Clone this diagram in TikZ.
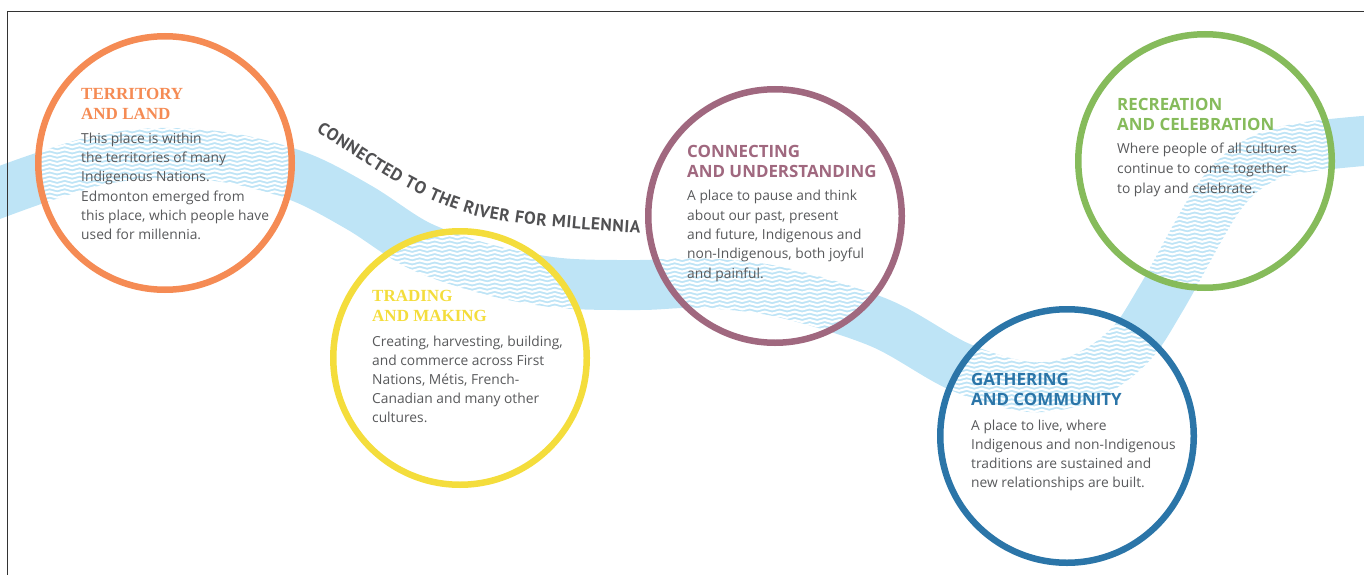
\documentclass[tikz,border=0pt]{standalone}
\usepackage{fontspec}
\setmainfont{Open Sans}
\newfontfamily\seriffont{Liberation Serif}
\newfontfamily\curvefont{PT Sans}
\usetikzlibrary{decorations.pathmorphing,decorations.text}
\definecolor{river}{RGB}{190,228,246}
\definecolor{cOrange}{RGB}{245,139,84}
\definecolor{cYellow}{RGB}{244,221,60}
\definecolor{cPurple}{RGB}{160,104,127}
\definecolor{cGreen}{RGB}{134,187,91}
\definecolor{cBlue}{RGB}{43,117,168}
\definecolor{txt}{RGB}{88,89,91}
\definecolor{ttl}{RGB}{80,80,82}
\begin{document}
\begin{tikzpicture}[x=1pt,y=-1pt,
  ring/.style={circle, draw=#1, line width=6.5pt, minimum size=253.5pt, inner sep=0pt},
  wave/.style={white, line width=2.1pt, decorate, decoration={snake, amplitude=1pt, segment length=15pt}},
  riverband/.style={draw=river, line width=50pt},
  frameline/.style={draw=black!80, line width=1.4pt},
  body/.style={anchor=north west, inner sep=0pt, align=left, text=txt, font=\fontsize{13.8}{19.3}\selectfont},
  sanstitle/.style={anchor=north west, inner sep=0pt, align=left, text=#1, font=\bfseries\fontsize{16.9}{20}\selectfont},
  seriftitle/.style={anchor=north west, inner sep=0pt, align=left, text=#1, font=\seriffont\bfseries\fontsize{17}{20}\selectfont},
]
\useasboundingbox (0,0) rectangle (1364,575);
% river
\draw[riverband] plot[smooth, tension=0.55] coordinates {(-10,196) (40,178) (100,160) (160,153) (230,158) (300,177) (360,208) (420,246) (490,270) (560,283) (640,285) (700,283) (780,292) (880,323) (960,367) (1030,387) (1085,377) (1130,345) (1162,297) (1217,200) (1255,163) (1300,148) (1375,140)};
% wave texture inside circles
\foreach \cx/\cy in {165/163, 460/358, 775/216, 1205/161, 1067/436} {
  \begin{scope}
    \clip (\cx,\cy) circle[radius=124pt];
    \foreach \k in {-31,...,31}
      \draw[wave] (\cx-135,\cy+\k*4.2) -- (\cx+135,\cy+\k*4.2);
  \end{scope}
}
% frame
\draw[frameline] (7.5,575) -- (7.5,11.5) -- (1364,11.5);
% circles
\node[ring=cOrange] (territory) at (165,163) {};
\node[ring=cYellow] (trading) at (460,358) {};
\node[ring=cPurple] (connecting) at (775,216) {};
\node[ring=cGreen] (recreation) at (1205,161) {};
\node[ring=cBlue] (gathering) at (1067,436) {};
% curved caption
\path[decorate, decoration={text along path, text color=ttl, text align=fit to path,
  text={|\curvefont\bfseries\fontsize{17.3}{17}\selectfont|CONNECTED TO THE RIVER FOR MILLENNIA}}]
  plot[smooth, tension=0.6] coordinates {(316,131) (400,184) (463,212) (517,223) (580,229) (640,233)};
% texts
\node[seriftitle=cOrange] (territoryT) at (81,87.7) {TERRITORY\\AND LAND};
\node[body] (territoryB) at (81,132.6) {This place is within\\the territories of many\\Indigenous Nations.\\Edmonton emerged from\\this place, which people have\\used for millennia.};
\node[seriftitle=cYellow] (tradingT) at (372,290.4) {TRADING\\AND MAKING};
\node[body, font=\fontsize{13.8}{19}\selectfont] (tradingB) at (372,335.6) {Creating, harvesting, building,\\and commerce across First\\Nations, Métis, French-\\Canadian and many other\\cultures.};
\node[sanstitle=cPurple] (connectingT) at (687,144.9) {CONNECTING\\AND UNDERSTANDING};
\node[body] (connectingB) at (687,190.3) {A place to pause and think\\about our past, present\\and future, Indigenous and\\non-Indigenous, both joyful\\and painful.};
\node[sanstitle=cGreen] (recreationT) at (1117,98.2) {RECREATION\\AND CELEBRATION};
\node[body, font=\fontsize{13.8}{20}\selectfont] (recreationB) at (1117,142.6) {Where people of all cultures\\continue to come together\\to play and celebrate.};
\node[sanstitle=cBlue] (gatheringT) at (971,373.2) {GATHERING\\AND COMMUNITY};
\node[body, font=\fontsize{13.8}{19}\selectfont] (gatheringB) at (971,419.6) {A place to live, where\\Indigenous and non-Indigenous\\traditions are sustained and\\new relationships are built.};
\end{tikzpicture}
\end{document}
